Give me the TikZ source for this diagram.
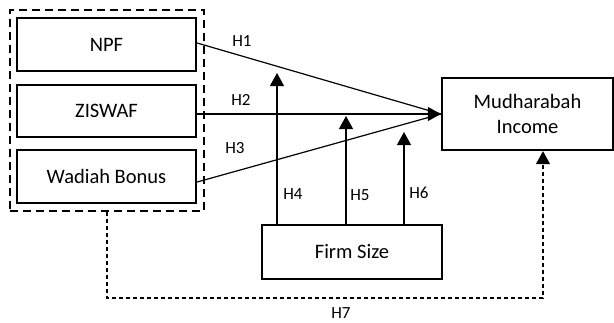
\documentclass[tikz,border=0pt]{standalone}
\usepackage{fontspec}
\setmainfont{Carlito}
\usetikzlibrary{arrows.meta,positioning}
\tikzstyle{every var} = []
\tikzstyle{var} = [draw, line width=2.3pt, align=center, font=\fontsize{20.5}{25}\selectfont, every var]
\tikzstyle{link} = [line width=1.2pt]
\tikzstyle{hyp} = [link, -{Triangle[length=13pt,width=14pt]}]
\tikzstyle{hlabel} = [font=\fontsize{17}{20}\selectfont]

\begin{document}
\begin{tikzpicture}[x=1pt,y=-1pt]
        \useasboundingbox (0,0) rectangle (614,322);

        \node[var, minimum width=179pt, minimum height=53pt] (npf) at (106.5,44.5) {NPF};
        \node[var, minimum width=179pt, minimum height=52pt] (ziswaf) at (106.5,111) {ZISWAF};
        \node[var, minimum width=179pt, minimum height=53pt] (wadiah) at (106.5,176.5) {Wadiah Bonus};
        \node[draw, line width=2.6pt, dash pattern=on 8pt off 5pt, minimum width=194pt, minimum height=201pt] (group) at (107,110.5) {};

        \node[var, minimum width=171pt, minimum height=72pt] (mudharabah) at (527.5,114) {Mudharabah\\Income};
        \node[var, minimum width=180pt, minimum height=54pt] (firm) at (352,252) {Firm Size};

        % direct effects
        \draw[link] ([yshift=1.5pt]npf.east) -- (mudharabah.west);
        \draw[link] ([yshift=-5.5pt]wadiah.east) -- (mudharabah.west);
        \draw[hyp] (ziswaf.east |- mudharabah.west) -- (mudharabah.west);
        \node[hlabel] at (242,41) {H1};
        \node[hlabel] at (241,100) {H2};
        \node[hlabel] at (235,148) {H3};

        % moderation by firm size
        \coordinate (t4) at (277,73);
        \coordinate (t5) at (346,116);
        \coordinate (t6) at (404,132);
        \draw[hyp] (t4 |- firm.north) -- (t4);
        \draw[hyp] (t5 |- firm.north) -- (t5);
        \draw[hyp] (t6 |- firm.north) -- (t6);
        \node[hlabel] at (293,194) {H4};
        \node[hlabel] at (360,195) {H5};
        \node[hlabel] at (419,193) {H6};

        % simultaneous effect
        \coordinate (h7) at (543,298);
        \draw[line width=1.2pt, dash pattern=on 4pt off 3pt, -{Triangle[length=13pt,width=14pt]}]
            (group.south) |- (h7) -- (h7 |- mudharabah.south);
        \node[hlabel] at (341,313) {H7};
    \end{tikzpicture}
\end{document}
